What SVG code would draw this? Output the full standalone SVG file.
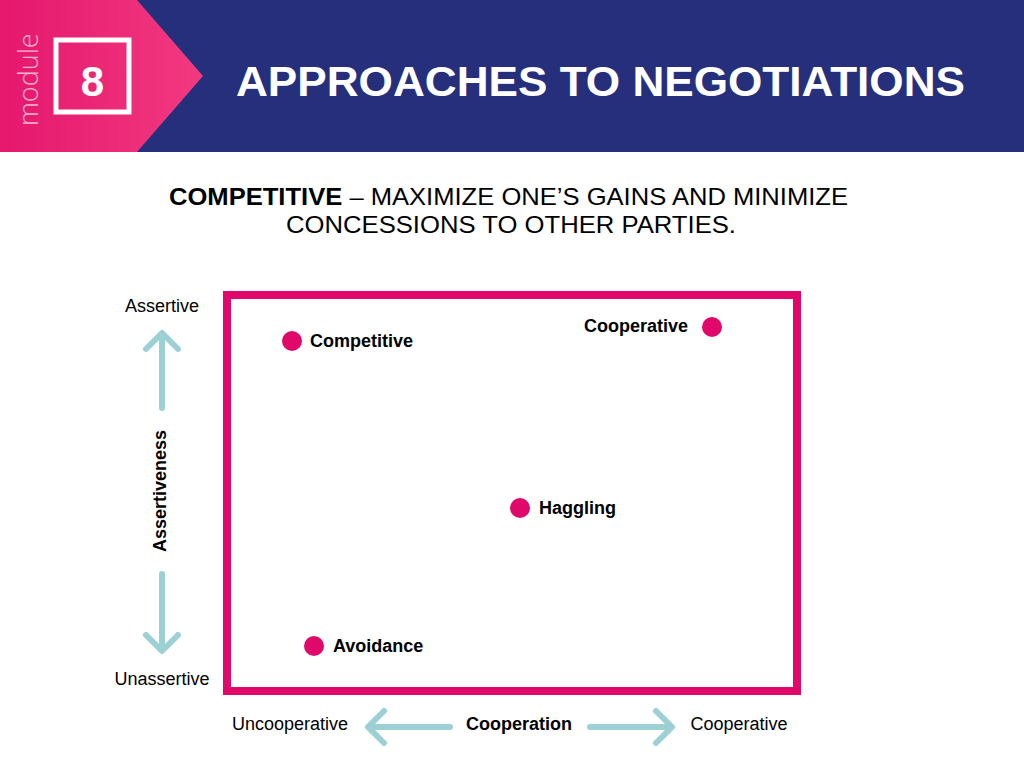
<svg xmlns="http://www.w3.org/2000/svg" width="1024" height="768" viewBox="0 0 1024 768">
<defs>
<linearGradient id="pg" x1="0" y1="0" x2="1" y2="0"><stop offset="0" stop-color="#e5176e"/><stop offset="1" stop-color="#f2397f"/></linearGradient>
</defs>
<style>
text{font-family:"Liberation Sans",Arial,sans-serif}
.lbl{font-size:18px;fill:#000}
.b{font-weight:bold}
.dot{fill:#e0086a}
.ar{fill:none;stroke:#9dd0d4;stroke-width:6;stroke-linecap:round;stroke-linejoin:round}
</style>
<rect width="1024" height="768" fill="#fff"/>
<rect width="1024" height="152" fill="#252f7c"/>
<polygon points="0,0 137,0 203,76 137,152 0,152" fill="url(#pg)"/>
<text transform="translate(38,126) rotate(-90)" font-size="27" fill="#f7b3cf" style="font-family:'Open Sans','Liberation Sans',sans-serif;font-weight:300">module</text>
<rect x="56" y="40" width="73" height="72" fill="none" stroke="#fff" stroke-width="5"/>
<text x="92.5" y="96" font-size="42" font-weight="bold" fill="#fff" text-anchor="middle">8</text>
<text x="236" y="96" font-size="43" font-weight="bold" fill="#fff" textLength="729" lengthAdjust="spacingAndGlyphs">APPROACHES TO NEGOTIATIONS</text>
<text x="169" y="205" font-size="24" fill="#000" textLength="679" lengthAdjust="spacingAndGlyphs"><tspan font-weight="bold">COMPETITIVE</tspan> – MAXIMIZE ONE’S GAINS AND MINIMIZE</text>
<text x="286" y="233" font-size="24" fill="#000" textLength="450" lengthAdjust="spacingAndGlyphs">CONCESSIONS TO OTHER PARTIES.</text>
<rect x="227" y="295" width="570" height="396" fill="none" stroke="#e0086a" stroke-width="8"/>
<g id="connectors">
<path class="ar" d="M162,408 V335 M146,349 L162,333 L178,349"/>
<path class="ar" d="M162,574 V649 M146,635 L162,651 L178,635"/>
<path class="ar" d="M450,727 H370 M384,711 L368,727 L384,743"/>
<path class="ar" d="M590,727 H670 M656,711 L672,727 L656,743"/>
</g>
<text class="lbl" x="162" y="312" text-anchor="middle">Assertive</text>
<text class="lbl" x="162" y="685" text-anchor="middle">Unassertive</text>
<text class="lbl b" transform="translate(166,491) rotate(-90)" text-anchor="middle">Assertiveness</text>
<text class="lbl" x="290" y="730" text-anchor="middle">Uncooperative</text>
<text class="lbl b" x="519" y="730" text-anchor="middle">Cooperation</text>
<text class="lbl" x="739" y="730" text-anchor="middle">Cooperative</text>
<g id="competitive"><circle class="dot" cx="292" cy="341" r="10"/><text class="lbl b" x="310" y="347">Competitive</text></g>
<g id="cooperative"><circle class="dot" cx="712" cy="327" r="10"/><text class="lbl b" x="688" y="332" text-anchor="end">Cooperative</text></g>
<g id="haggling"><circle class="dot" cx="520" cy="508" r="10"/><text class="lbl b" x="539" y="514">Haggling</text></g>
<g id="avoidance"><circle class="dot" cx="314" cy="646" r="10"/><text class="lbl b" x="333" y="652">Avoidance</text></g>
</svg>
